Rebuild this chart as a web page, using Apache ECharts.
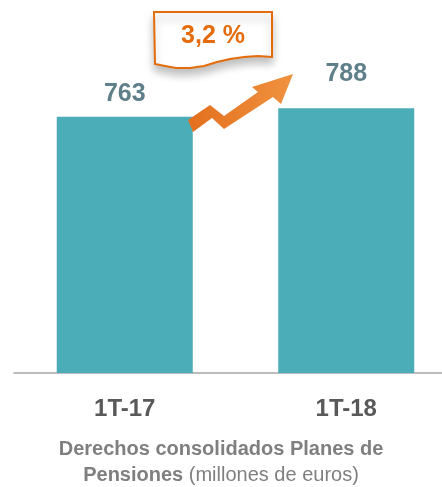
<!DOCTYPE html>
<html>
	<head>
		<meta charset="utf-8">
		<title>Derechos consolidados Planes de Pensiones</title>
		<script src="https://cdn.jsdelivr.net/npm/echarts@6/dist/echarts.min.js"></script>
		<style>
			html, body { margin: 0; padding: 0; background: #fff; }
		</style>
	</head>
	<body>
		<div id="main" style="width: 442px;height:487px;"></div>
		<script type="text/javascript">
			// datos
			var periodos = ['1T-17', '1T-18'];
			var derechos = [763, 788];
			var variacion = '3,2 %';

			var fuente = "'Liberation Sans', Arial, sans-serif";

			var myChart = echarts.init(document.getElementById('main'));
			var option = {
				animation: false,
				grid: {
					left: 14,
					top: 37,
					width: 443,
					height: 336,
					outerBoundsMode: 'none',
					containLabel: false
				},
				title: {
					text: 'Derechos consolidados Planes de\n{b|Pensiones} {n|(millones de euros)}',
					left: 'center',
					top: 431,
					textStyle: {
						fontFamily: fuente,
						fontSize: 20,
						fontWeight: 'bold',
						color: '#7f7f7f',
						lineHeight: 26,
						rich: {
							b: { fontFamily: fuente, fontSize: 20, fontWeight: 'bold', color: '#7f7f7f' },
							n: { fontFamily: fuente, fontSize: 20, fontWeight: 'normal', color: '#7f7f7f' }
						}
					}
				},
				xAxis: {
					type: 'category',
					data: periodos,
					axisTick: { show: false },
					axisLine: { lineStyle: { color: '#a6a6a6', width: 1.5 } },
					axisLabel: {
						margin: 24,
						fontFamily: fuente,
						fontSize: 24,
						fontWeight: 'bold',
						color: '#595959'
					}
				},
				yAxis: {
					type: 'value',
					min: 0,
					max: 1000,
					show: false
				},
				series: [
					{
						type: 'bar',
						// la etiqueta del segundo periodo queda más alta en el original
						data: derechos.map(function (v, i) {
							return { value: v, label: { distance: i === 1 ? 22 : 10 } };
						}),
						barWidth: 136,
						itemStyle: { color: '#4badb8' },
						label: {
							show: true,
							position: 'top',
							fontFamily: fuente,
							fontSize: 25,
							fontWeight: 'bold',
							color: '#5f7f8a'
						}
					}
				],
				graphic: [
					// flecha de crecimiento
					{
						type: 'polygon',
						z: 100,
						shape: {
							points: [[188, 120], [210, 105], [224, 116], [258, 92], [252, 87], [293, 74],
								[281, 104], [273, 97], [224, 129], [212, 118], [193, 132]]
						},
						style: {
							fill: new echarts.graphic.LinearGradient(0, 0, 1, 0, [
								{ offset: 0, color: '#e36f1e' },
								{ offset: 1, color: '#f0923f' }
							])
						}
					},
					// recuadro del porcentaje
					{
						type: 'polygon',
						z: 100,
						shape: {
							points: [[154, 12], [272, 12], [272, 57], [258, 56], [244, 57], [230, 59],
								[217, 62], [204, 66], [190, 68], [176, 68], [165, 66], [155, 64]]
						},
						style: {
							fill: '#fff',
							stroke: '#e46c0a',
							lineWidth: 2,
							shadowBlur: 8,
							shadowOffsetY: 6,
							shadowColor: 'rgba(0,0,0,0.25)'
						}
					},
					{
						type: 'text',
						z: 101,
						x: 213,
						y: 36,
						style: {
							text: variacion,
							fontFamily: fuente,
							fontSize: 25,
							fontWeight: 'bold',
							fill: '#e46c0a',
							align: 'center',
							verticalAlign: 'middle'
						}
					}
				]
			};
			option && myChart.setOption(option);
		</script>
	</body>
</html>
